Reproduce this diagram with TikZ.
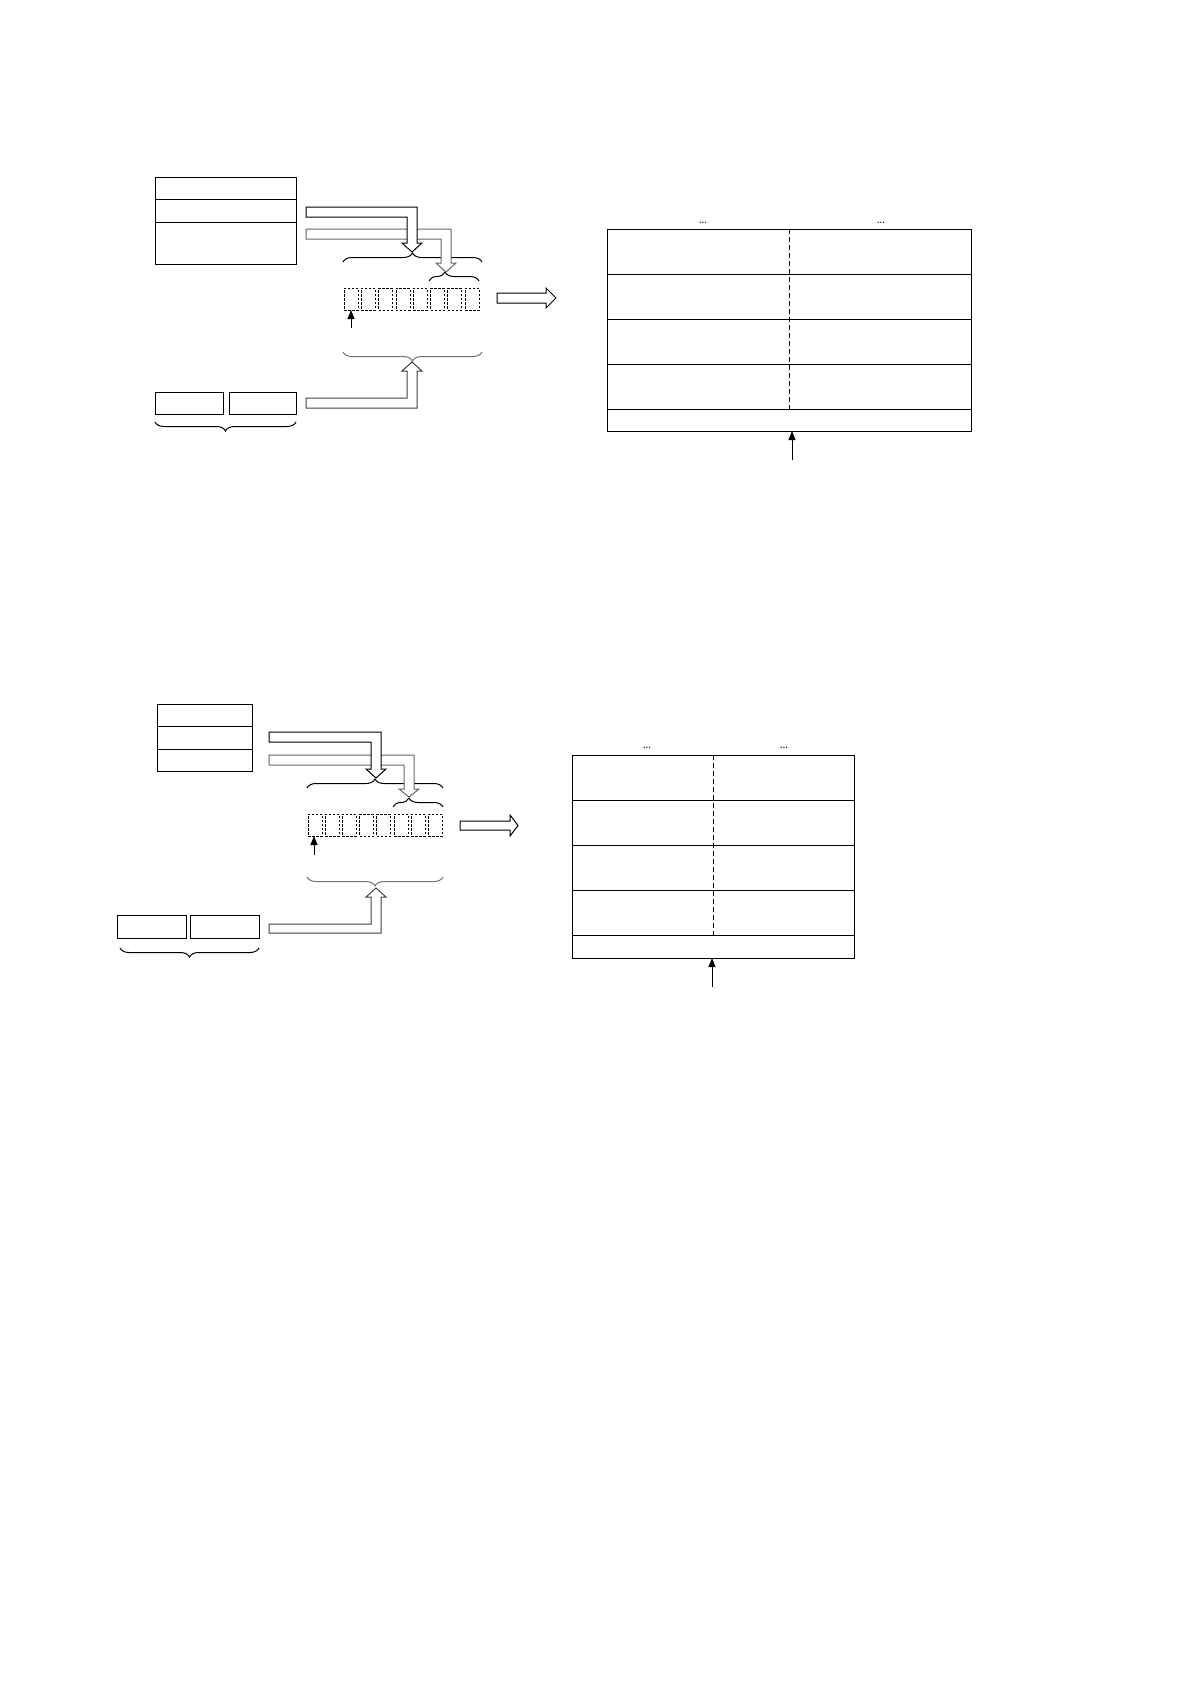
\documentclass[tikz,border=0pt]{standalone}
\usepackage{tikz}
\usetikzlibrary{arrows.meta,positioning}
\usetikzlibrary{decorations.pathreplacing}

\begin{document}
\begin{tikzpicture}[x=1pt,y=-1pt,line width=1pt,
  box/.style={draw,rectangle,inner sep=0pt,outer sep=0pt},
  cell/.style={draw,dash pattern=on 2.5pt off 1.5pt,line width=0.8pt,rectangle,inner sep=0pt,outer sep=0pt,minimum width=14pt,minimum height=22pt,anchor=north west},
  hollow/.style={draw,fill=white,line join=miter},
  curly/.style={decorate,decoration={brace,amplitude=9pt}},
  curlyoff/.style={decorate,decoration={brace,amplitude=9pt,aspect=0.32}},
  pointer/.style={-{Triangle[width=7pt,length=9pt]}},
  dots/.style={font=\Large,inner sep=0pt,anchor=base}]
  \useasboundingbox (0,0) rectangle (1190,1684);

  % upper picture
  \node[box,anchor=north west,minimum width=141pt,minimum height=22pt] (ua) at (155,177) {};
  \node[box,minimum width=141pt,minimum height=23pt] (ub) [below=0pt of ua] {};
  \node[box,minimum width=141pt,minimum height=42pt] (uc) [below=0pt of ub] {};
  \node[box,anchor=north west,minimum width=68pt,minimum height=22pt] (ul) at (155,392) {};
  \node[box,minimum width=67pt,minimum height=22pt] (ur) [right=6pt of ul] {};

  \foreach \i in {1,...,8}
    \node[cell] (uc\i) at ({344+(\i-1)*17.3},288) {};

  \draw[curly] (343,262) -- (482,262);
  \draw[curlyoff] (429,281) -- (479,281);
  \draw[curly,black!55] (482,352) -- (343,352);
  \draw[curly] (296,422) -- (155,422);

  \draw[hollow,draw=black!60] (306,229) -- (451,229) -- (451,263) -- (456,263) -- (446,272)
    -- (436,263) -- (441,263) -- (441,239) -- (306,239) -- cycle;
  \draw[hollow] (306,207) -- (417,207) -- (417,243) -- (422,243) -- (412,252)
    -- (402,243) -- (407,243) -- (407,217) -- (306,217) -- cycle;
  \draw[hollow,draw=black!75] (306,408) -- (417,408) -- (417,371) -- (422,371) -- (412,362)
    -- (402,371) -- (407,371) -- (407,398) -- (306,398) -- cycle;
  \draw[hollow] (497,293) -- (546,293) -- (546,288) -- (556,298) -- (546,308)
    -- (546,303) -- (497,303) -- cycle;

  \coordinate (up) at (351,328);
  \draw[pointer,line width=0.8pt] (up) -- (up |- uc1.south);

  \node[box,anchor=north west,minimum width=364pt,minimum height=45pt] (ut1) at (607,229) {};
  \node[box,minimum width=364pt,minimum height=45pt] (ut2) [below=0pt of ut1] {};
  \node[box,minimum width=364pt,minimum height=45pt] (ut3) [below=0pt of ut2] {};
  \node[box,minimum width=364pt,minimum height=45pt] (ut4) [below=0pt of ut3] {};
  \node[box,minimum width=364pt,minimum height=22pt] (ut5) [below=0pt of ut4] {};
  \draw[dash pattern=on 5pt off 3pt] (ut1.north) -- (ut4.south);
  \node[dots] (ud1) at (703,223) {\ldots};
  \node[dots] (ud2) at (881,223) {\ldots};
  \coordinate (ut) at (792,460);
  \draw[pointer] (ut) -- (ut |- ut5.south);

  % lower picture
  \node[box,anchor=north west,minimum width=95pt,minimum height=22pt] (la) at (157,704) {};
  \node[box,minimum width=95pt,minimum height=23pt] (lb) [below=0pt of la] {};
  \node[box,minimum width=95pt,minimum height=22pt] (lc) [below=0pt of lb] {};
  \node[box,anchor=north west,minimum width=69pt,minimum height=23pt] (ll) at (117,915) {};
  \node[box,minimum width=69pt,minimum height=23pt] (lr) [right=4pt of ll] {};

  \foreach \i in {1,...,8}
    \node[cell] (lc\i) at ({308+(\i-1)*17.2},814) {};

  \draw[curly] (307,788) -- (443,788);
  \draw[curlyoff] (393,807) -- (443,807);
  \draw[curly,black!55] (443,877) -- (307,877);
  \draw[curly] (259,948) -- (120,948);

  \draw[hollow,draw=black!60] (269,755) -- (414,755) -- (414,789) -- (419,789) -- (409,797)
    -- (399,789) -- (404,789) -- (404,765) -- (269,765) -- cycle;
  \draw[hollow] (269,732) -- (381,732) -- (381,769) -- (386,769) -- (376,778)
    -- (366,769) -- (371,769) -- (371,742) -- (269,742) -- cycle;
  \draw[hollow,draw=black!75] (269,933) -- (381,933) -- (381,897) -- (386,897) -- (376,888)
    -- (366,897) -- (371,897) -- (371,924) -- (269,924) -- cycle;
  \draw[hollow] (460,821) -- (510,821) -- (510,815) -- (518,825.5) -- (510,836)
    -- (510,830) -- (460,830) -- cycle;

  \coordinate (lp) at (314,855);
  \draw[pointer,line width=0.8pt] (lp) -- (lp |- lc1.south);

  \node[box,anchor=north west,minimum width=282pt,minimum height=45pt] (lt1) at (572,755) {};
  \node[box,minimum width=282pt,minimum height=45pt] (lt2) [below=0pt of lt1] {};
  \node[box,minimum width=282pt,minimum height=45pt] (lt3) [below=0pt of lt2] {};
  \node[box,minimum width=282pt,minimum height=45pt] (lt4) [below=0pt of lt3] {};
  \node[box,minimum width=282pt,minimum height=23pt] (lt5) [below=0pt of lt4] {};
  \draw[dash pattern=on 5pt off 3pt] (lt1.north) -- (lt4.south);
  \node[dots] (ld1) at (647,748) {\ldots};
  \node[dots] (ld2) at (784,748) {\ldots};
  \coordinate (lt) at (712,987);
  \draw[pointer] (lt) -- (lt |- lt5.south);
\end{tikzpicture}
\end{document}
